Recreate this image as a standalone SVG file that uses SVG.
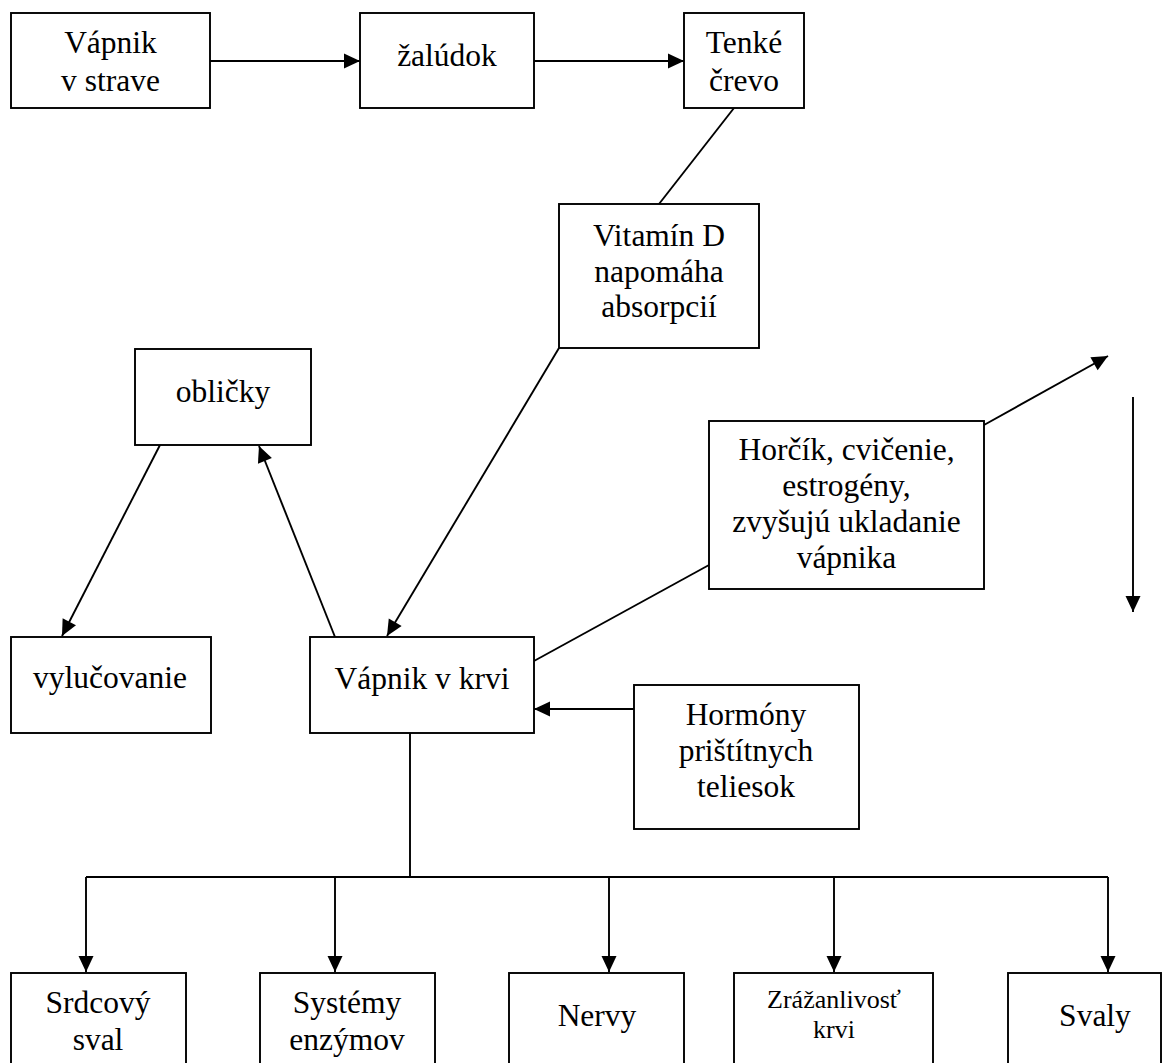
<svg xmlns="http://www.w3.org/2000/svg" width="1173" height="1063" viewBox="0 0 1173 1063">
<style>
.box{fill:#fff;stroke:#000;stroke-width:1.9}
.ln{fill:none;stroke:#000;stroke-width:1.9}
.t{font-family:"Liberation Serif","Times New Roman",serif;font-size:31.5px;fill:#000;text-anchor:middle}
.s{font-size:26px}
</style>
<defs>
<marker id="ah" markerUnits="userSpaceOnUse" markerWidth="18" markerHeight="18" viewBox="0 0 18 18" refX="17" refY="9" orient="auto">
<path d="M1,1.5 L17,9 L1,16.5 Z" fill="#000"/>
</marker>
</defs>
<rect width="1173" height="1063" fill="#fff"/>
<g id="connectors">
<line class="ln" x1="210" y1="61" x2="360" y2="61" marker-end="url(#ah)"/>
<line class="ln" x1="534" y1="61" x2="684" y2="61" marker-end="url(#ah)"/>
<line class="ln" x1="734" y1="108" x2="659" y2="204"/>
<line class="ln" x1="559" y1="348" x2="387" y2="636" marker-end="url(#ah)"/>
<line class="ln" x1="335" y1="637" x2="259" y2="446" marker-end="url(#ah)"/>
<line class="ln" x1="160" y1="445" x2="62" y2="636" marker-end="url(#ah)"/>
<line class="ln" x1="984" y1="425" x2="1108" y2="356" marker-end="url(#ah)"/>
<line class="ln" x1="1133" y1="397" x2="1133" y2="612" marker-end="url(#ah)"/>
<line class="ln" x1="709" y1="565" x2="534" y2="661"/>
<line class="ln" x1="634" y1="709" x2="534" y2="709" marker-end="url(#ah)"/>
<line class="ln" x1="410" y1="733" x2="410" y2="877"/>
<line class="ln" x1="86" y1="877" x2="1108" y2="877"/>
<line class="ln" x1="86" y1="877" x2="86" y2="972" marker-end="url(#ah)"/>
<line class="ln" x1="335" y1="877" x2="335" y2="972" marker-end="url(#ah)"/>
<line class="ln" x1="609" y1="877" x2="609" y2="972" marker-end="url(#ah)"/>
<line class="ln" x1="834" y1="877" x2="834" y2="972" marker-end="url(#ah)"/>
<line class="ln" x1="1108" y1="877" x2="1108" y2="972" marker-end="url(#ah)"/>
</g>
<g id="n-strava"><rect class="box" x="11" y="13" width="199" height="95"/><text class="t" x="110.5" y="53">Vápnik</text><text class="t" x="110.5" y="91">v strave</text></g>
<g id="n-zaludok"><rect class="box" x="360" y="13" width="174" height="95"/><text class="t" x="447" y="66">žalúdok</text></g>
<g id="n-crevo"><rect class="box" x="684" y="13" width="120" height="95"/><text class="t" x="744" y="53">Tenké</text><text class="t" x="744" y="91">črevo</text></g>
<g id="n-vitd"><rect class="box" x="559" y="204" width="200" height="144"/><text class="t" x="659" y="246">Vitamín D</text><text class="t" x="659" y="282">napomáha</text><text class="t" x="659" y="317">absorpcií</text></g>
<g id="n-oblicky"><rect class="box" x="135" y="349" width="176" height="96"/><text class="t" x="223" y="402">obličky</text></g>
<g id="n-horcik"><rect class="box" x="709" y="421" width="275" height="168"/><text class="t" x="846.5" y="460">Horčík, cvičenie,</text><text class="t" x="846.5" y="496">estrogény,</text><text class="t" x="846.5" y="532">zvyšujú ukladanie</text><text class="t" x="846.5" y="568">vápnika</text></g>
<g id="n-vylucovanie"><rect class="box" x="11" y="637" width="200" height="96"/><text class="t" x="110" y="688">vylučovanie</text></g>
<g id="n-krv"><rect class="box" x="310" y="637" width="224" height="96"/><text class="t" x="422" y="689">Vápnik v krvi</text></g>
<g id="n-hormony"><rect class="box" x="634" y="685" width="225" height="144"/><text class="t" x="746" y="725">Hormóny</text><text class="t" x="746" y="761">prištítnych</text><text class="t" x="746" y="797">teliesok</text></g>
<g id="n-srdce"><rect class="box" x="11" y="973" width="175" height="110"/><text class="t" x="98" y="1013">Srdcový</text><text class="t" x="98" y="1050">sval</text></g>
<g id="n-enzymy"><rect class="box" x="260" y="973" width="175" height="110"/><text class="t" x="347" y="1013">Systémy</text><text class="t" x="347" y="1050">enzýmov</text></g>
<g id="n-nervy"><rect class="box" x="509" y="973" width="175" height="110"/><text class="t" x="597" y="1026">Nervy</text></g>
<g id="n-zrazanlivost"><rect class="box" x="734" y="973" width="199" height="110"/><text class="t s" x="834" y="1008">Zrážanlivosť</text><text class="t s" x="834" y="1038">krvi</text></g>
<g id="n-svaly"><rect class="box" x="1008" y="973" width="153" height="110"/><text class="t" x="1095" y="1026">Svaly</text></g>
</svg>
